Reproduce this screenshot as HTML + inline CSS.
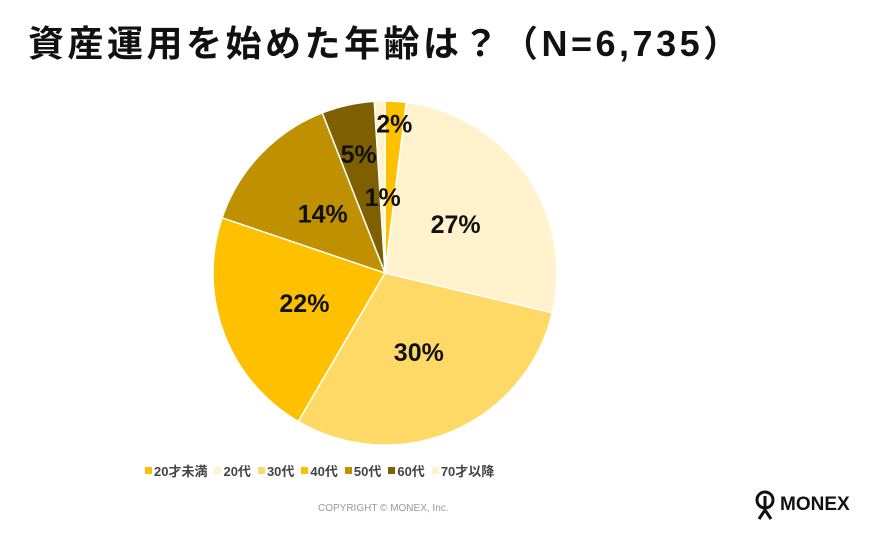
<!DOCTYPE html>
<html><head><meta charset="utf-8"><style>
body{margin:0;width:870px;height:535px;background:#fff;overflow:hidden;font-family:"Liberation Sans","Noto Sans CJK JP",sans-serif;position:relative}
#title{position:absolute;left:28px;top:22px;font-size:36px;line-height:44px;font-weight:bold;color:#111;white-space:nowrap;letter-spacing:3.5px}
#legend{position:absolute;left:145px;top:461px;font-size:13px;font-weight:bold;color:#444;display:flex;gap:7px;white-space:nowrap}
.li{display:flex;align-items:center;gap:2px}.sw{width:7px;height:7px;display:inline-block}
#copy{position:absolute;left:318px;top:503px;font-size:10px;color:#999}
#logo{position:absolute;left:754px;top:490px;display:flex;align-items:center;gap:4px;font-weight:bold;font-size:19px;color:#111}
</style></head><body>
<div id="title">資産運用を始めた年齢は？（N=6,735）</div>
<svg id="pie" width="870" height="535" style="position:absolute;left:0;top:0"></svg>
<div id="legend"></div>
<div id="copy">COPYRIGHT © MONEX, Inc.</div>
<div id="logo"><svg width="22" height="30" viewBox="0 0 22 30"><circle cx="11" cy="10" r="8" fill="none" stroke="#111" stroke-width="3"/><path d="M11 6 L11 22 M5 29 L11 20 L17 29" stroke="#111" stroke-width="3" fill="none"/></svg>MONEX</div>
<script>
const categories=["20才未満","20代","30代","40代","50代","60代","70才以降"];
const values=[2,27,30,22,14,5,1];
const colors=["#FFC000","#FFF2CC","#FFD966","#FFC000","#BF9000","#7F6000","#FFF2CC"];
const labelDist=[150,86,86,86,86,122,76];
const cx=385,cy=273,r=172;
const svg=document.getElementById('pie');
const NS="http://www.w3.org/2000/svg";
const total=values.reduce((a,b)=>a+b,0);
let a0=0;
function pt(a,d){return [cx+d*Math.sin(a),cy-d*Math.cos(a)];}
values.forEach((v,i)=>{
 const a1=a0+v/total*2*Math.PI;
 const p0=pt(a0,r),p1=pt(a1,r);
 const path=document.createElementNS(NS,'path');
 path.setAttribute('d',`M${cx},${cy} L${p0[0]},${p0[1]} A${r},${r} 0 ${a1-a0>Math.PI?1:0} 1 ${p1[0]},${p1[1]} Z`);
 path.setAttribute('fill',colors[i]);path.setAttribute('stroke','#fff');path.setAttribute('stroke-width','1.5');
 
 
 svg.appendChild(path);
 a0=a1;
});
a0=0;
values.forEach((v,i)=>{
 const a1=a0+v/total*2*Math.PI;const m=(a0+a1)/2;const p=pt(m,labelDist[i]);
 const t=document.createElementNS(NS,'text');
 t.setAttribute('x',p[0]);t.setAttribute('y',p[1]+9);t.setAttribute('text-anchor','middle');
 t.setAttribute('font-size','25');t.setAttribute('font-weight','bold');t.setAttribute('fill','#111');
 t.setAttribute('font-family','Liberation Sans, sans-serif');
 t.textContent=v+'%';
 
 
 svg.appendChild(t);a0=a1;
});
const lg=document.getElementById('legend');
categories.forEach((c,i)=>{
 const d=document.createElement('div');d.className='li';
 d.innerHTML=`<span class="sw" style="background:${colors[i]}"></span>${c}`;
 
 
 lg.appendChild(d);
});
</script>
</body></html>
